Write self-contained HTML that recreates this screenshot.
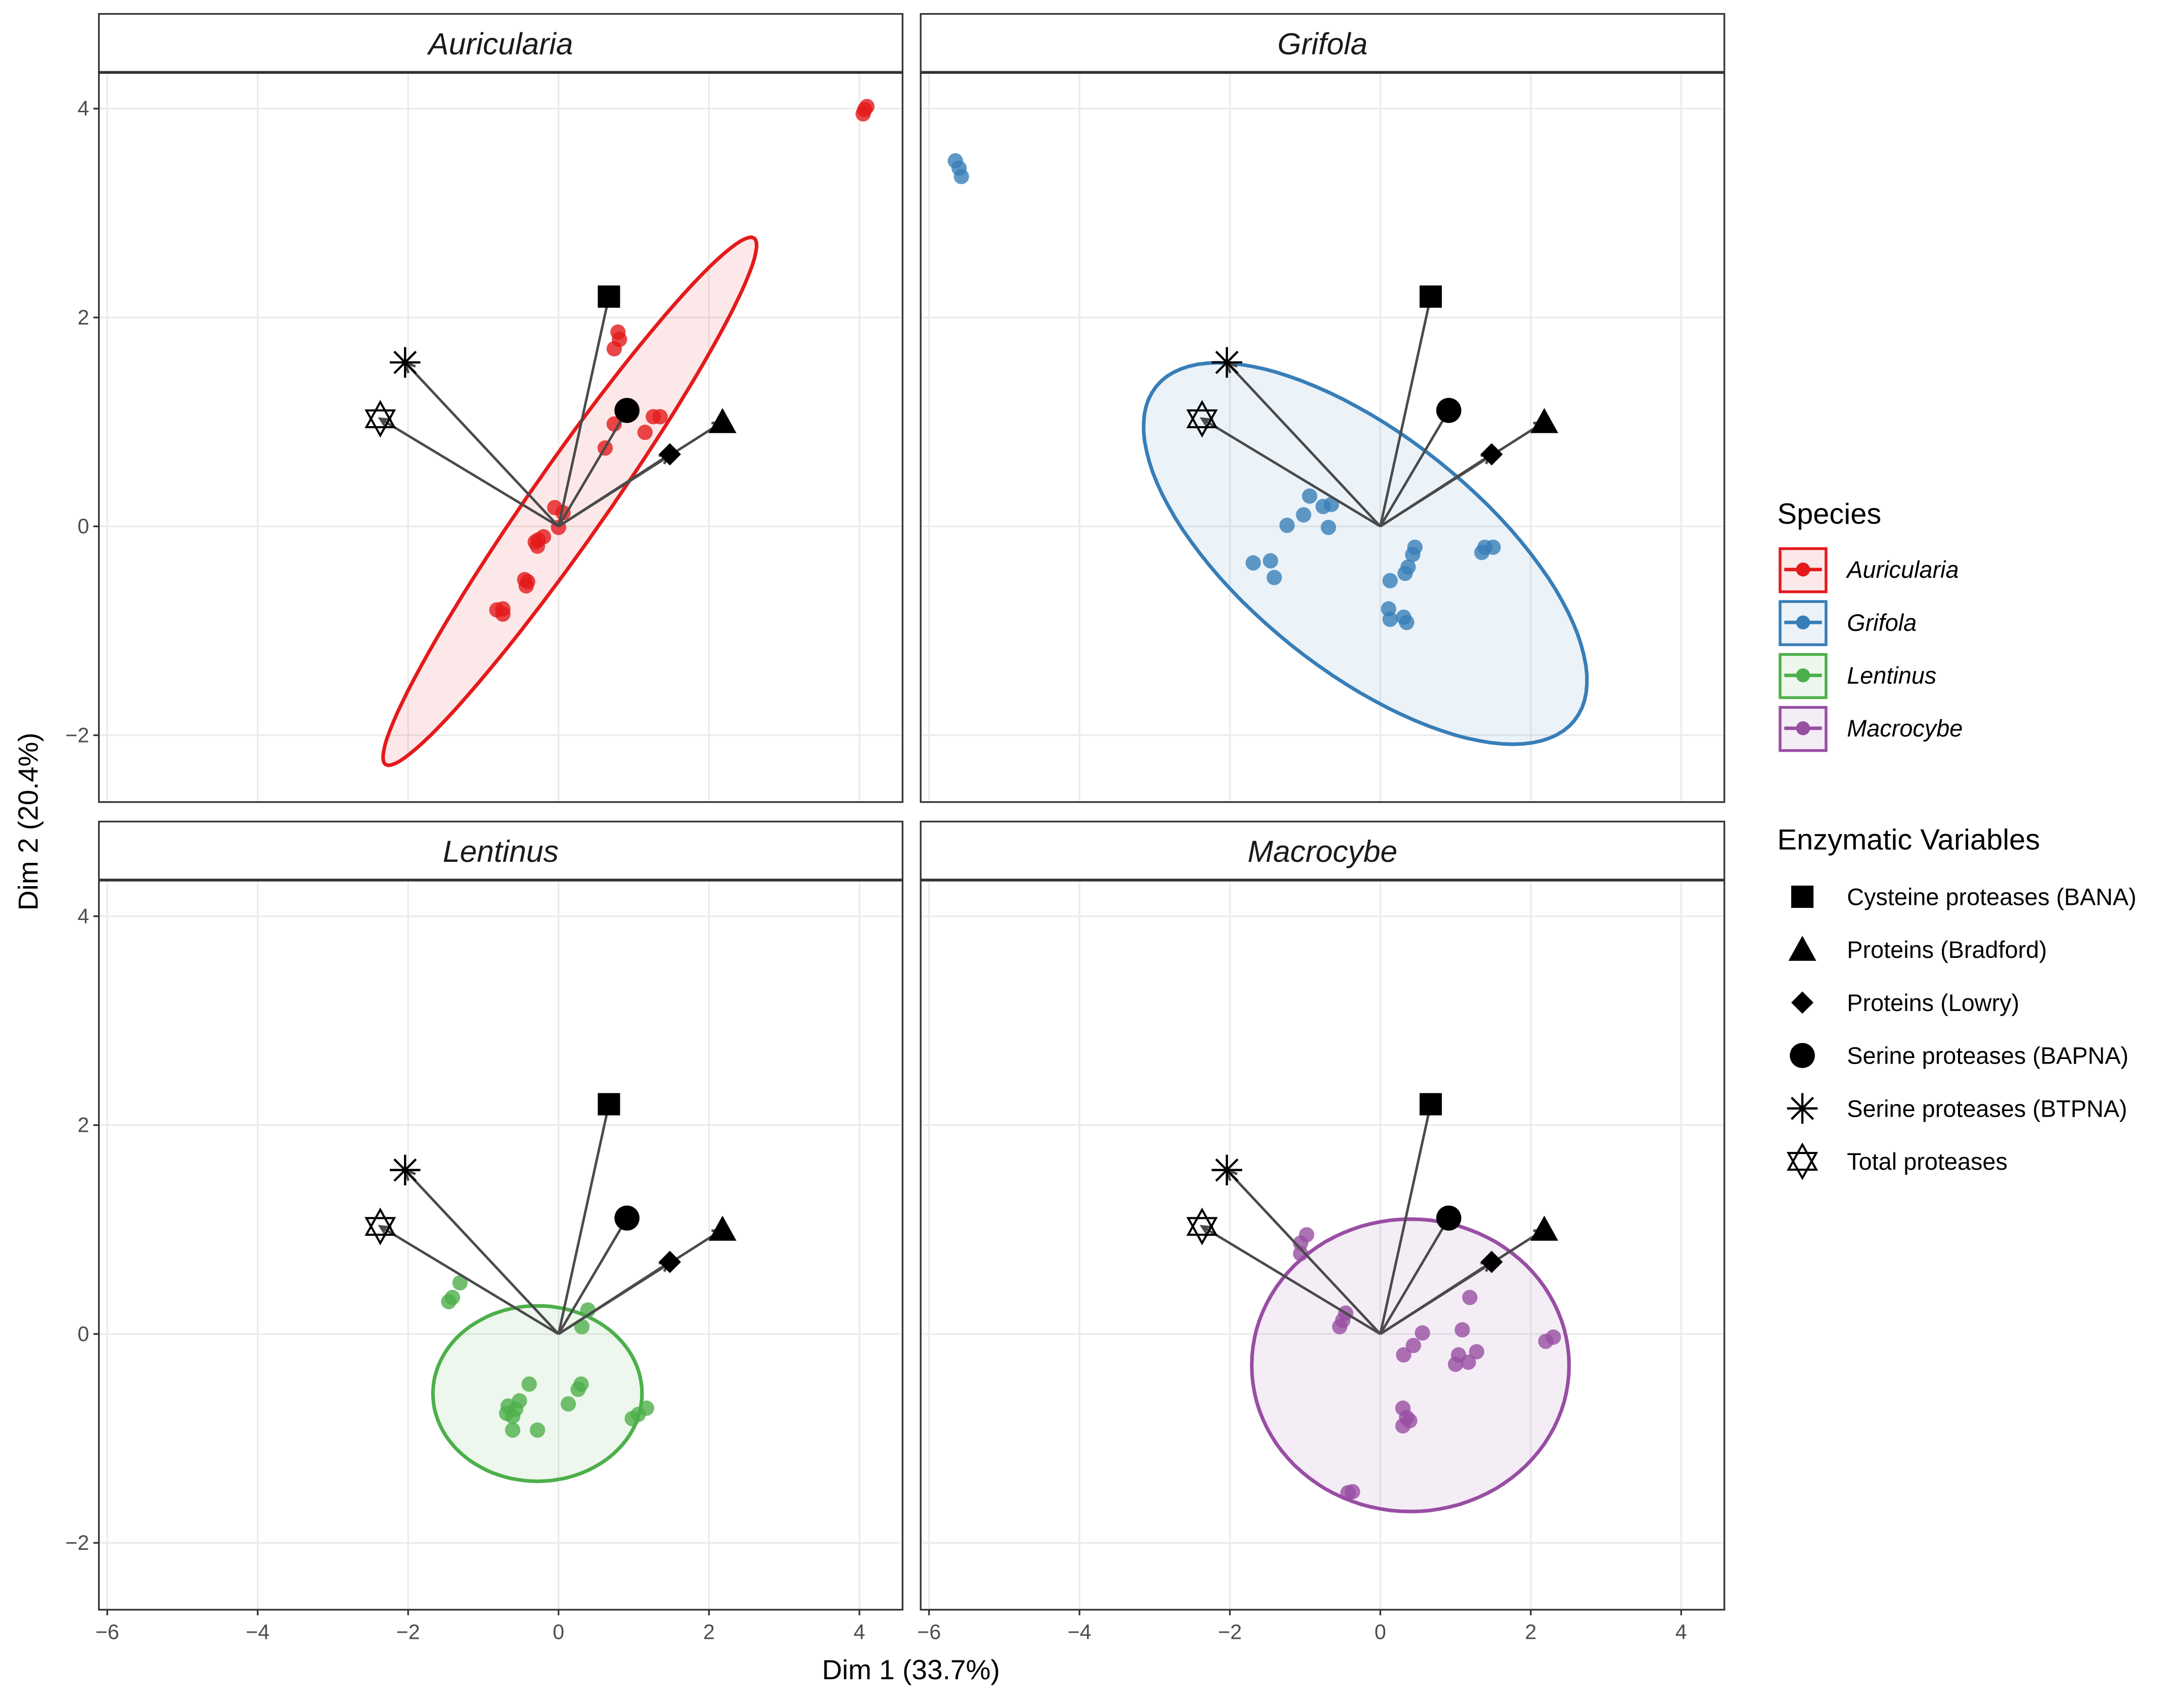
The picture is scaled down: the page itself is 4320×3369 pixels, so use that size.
<!DOCTYPE html>
<html><head><meta charset="utf-8"><style>
html,body{margin:0;padding:0;background:#fff}
svg{display:block}
text{font-family:"Liberation Sans",Arial,sans-serif}
</style></head><body>
<svg id="chart" width="4320" height="3369" viewBox="0 0 1568 1223" preserveAspectRatio="none" xmlns="http://www.w3.org/2000/svg">
<rect width="1568" height="1223" fill="#fff"/>
<g id="panels"></g>
<text x="654" y="1206" font-size="20" text-anchor="middle" fill="#000">Dim 1 (33.7%)</text>
<text transform="translate(27,590) rotate(-90)" font-size="20" text-anchor="middle" fill="#000">Dim 2 (20.4%)</text>
<g id="legend"></g>
</svg>
<script>
const species = ["Auricularia","Grifola","Lentinus","Macrocybe"];
const colors = ["#E41A1C","#377EB8","#4DAF4A","#984EA3"];
const ptsAuricularia = [[4.07,3.99],[4.05,3.95],[4.1,4.02],[0.79,1.86],[0.81,1.79],[0.74,1.70],[0.74,0.98],[1.26,1.05],[1.35,1.05],[1.15,0.90],[0.62,0.75],[-0.05,0.18],[0.06,0.13],[0,-0.01],[-0.2,-0.1],[-0.27,-0.13],[-0.28,-0.19],[-0.31,-0.15],[-0.45,-0.51],[-0.41,-0.53],[-0.43,-0.57],[-0.82,-0.8],[-0.74,-0.79],[-0.74,-0.84]];
const ptsGrifola = [[-5.65,3.5],[-5.6,3.43],[-5.57,3.35],[-0.94,0.29],[-0.65,0.21],[-0.76,0.19],[-1.02,0.11],[-1.24,0.01],[-0.69,-0.01],[-1.69,-0.35],[-1.46,-0.33],[-1.41,-0.49],[0.46,-0.2],[0.43,-0.27],[0.37,-0.39],[0.33,-0.45],[0.13,-0.52],[0.11,-0.79],[0.13,-0.89],[0.31,-0.87],[0.35,-0.92],[1.35,-0.25],[1.5,-0.2],[1.39,-0.2]];
const ptsLentinus = [[-1.31,0.49],[-1.41,0.35],[-1.46,0.31],[0.39,0.23],[0.31,0.07],[-0.39,-0.48],[0.3,-0.48],[0.26,-0.53],[-0.67,-0.69],[-0.52,-0.64],[-0.57,-0.72],[-0.69,-0.76],[-0.61,-0.79],[0.13,-0.67],[1.17,-0.71],[1.06,-0.77],[0.98,-0.81],[-0.61,-0.92],[-0.28,-0.92]];
const ptsMacrocybe = [[-0.98,0.95],[-1.06,0.87],[-1.06,0.77],[-0.46,0.2],[-0.5,0.13],[-0.54,0.07],[0.56,0.01],[0.44,-0.11],[0.31,-0.2],[1.19,0.35],[1.09,0.04],[1.28,-0.17],[1.04,-0.2],[1.17,-0.27],[1.0,-0.29],[2.2,-0.07],[2.3,-0.03],[0.3,-0.71],[0.35,-0.8],[0.3,-0.88],[0.39,-0.83],[-0.43,-1.52],[-0.37,-1.51]];
const allPts = [ptsAuricularia, ptsGrifola, ptsLentinus, ptsMacrocybe];
const ellCenters = [[0.15,0.24],[-0.2,-0.26],[-0.28,-0.57],[0.4,-0.3]];
const ellU = [[2.45,2.52],[2.78,-1.6],[1.39,0],[2.11,0]];
const ellV = [[0.41,-0.206],[-0.98,-0.88],[0,0.84],[0,1.4]];
const varNames = ["Cysteine proteases (BANA)","Proteins (Bradford)","Proteins (Lowry)","Serine proteases (BAPNA)","Serine proteases (BTPNA)","Total proteases"];
const varShapes = ["square","triangle","diamond","circle","asterisk","star"];
const varX = [0.67,2.18,1.48,0.91,-2.04,-2.37];
const varY = [2.2,1.0,0.69,1.11,1.57,1.03];
const xTicks = [-6,-4,-2,0,2,4];
const yTicks = [-2,0,2,4];

const NS="http://www.w3.org/2000/svg";
function mk(tag, attrs, parent){const e=document.createElementNS(NS,tag);for(const k in attrs)e.setAttribute(k,attrs[k]);parent.appendChild(e);return e;}
const panelsG=document.getElementById('panels');
const panelBox=[[71,10],[661,10],[71,590],[661,590]];
const PW=577, PH=566, STRIP=42;
function shape(g,type,cx,cy){
  if(type==="square") mk('rect',{x:cx-8,y:cy-8,width:16,height:16,fill:'#000'},g);
  else if(type==="triangle") mk('polygon',{points:`${cx},${cy-10} ${cx-10},${cy+8} ${cx+10},${cy+8}`,fill:'#000'},g);
  else if(type==="diamond") mk('polygon',{points:`${cx},${cy-8} ${cx+8},${cy} ${cx},${cy+8} ${cx-8},${cy}`,fill:'#000'},g);
  else if(type==="circle") mk('circle',{cx:cx,cy:cy,r:9,fill:'#000'},g);
  else if(type==="asterisk"){const r=11;mk('path',{d:`M${cx-r},${cy}H${cx+r}M${cx},${cy-r}V${cy+r}M${cx-7.8},${cy-7.8}L${cx+7.8},${cy+7.8}M${cx-7.8},${cy+7.8}L${cx+7.8},${cy-7.8}`,stroke:'#000','stroke-width':1.6,fill:'none'},g);}
  else if(type==="star"){mk('polygon',{points:`${cx},${cy-12} ${cx-10},${cy+6} ${cx+10},${cy+6}`,fill:'none',stroke:'#000','stroke-width':1.5},g);mk('polygon',{points:`${cx},${cy+12} ${cx-10},${cy-6} ${cx+10},${cy-6}`,fill:'none',stroke:'#000','stroke-width':1.5},g);}
}
for(let p=0;p<4;p++){
  const [L,T]=panelBox[p];
  const top=T+STRIP, bot=T+PH;
  const sx=v=>L+330+v*54;
  const sy=v=>T+368+(-v)*75;
  const g=mk('g',{},panelsG);
  
  
  mk('rect',{x:L,y:top,width:PW,height:PH-STRIP,fill:'#fff'},g);
  xTicks.forEach(t=>{mk('line',{x1:sx(t),x2:sx(t),y1:top,y2:bot,stroke:'#ebebeb','stroke-width':1.2},g);});
  yTicks.forEach(t=>{mk('line',{x1:L,x2:L+PW,y1:sy(t),y2:sy(t),stroke:'#ebebeb','stroke-width':1.2},g);});
  const c=ellCenters[p],u=ellU[p],v=ellV[p];let d='';
  for(let i=0;i<=100;i++){const a=i/100*2*Math.PI;const x=c[0]+Math.cos(a)*u[0]+Math.sin(a)*v[0];const y=c[1]+Math.cos(a)*u[1]+Math.sin(a)*v[1];d+=(i?'L':'M')+sx(x).toFixed(1)+','+sy(y).toFixed(1);}
  const el=mk('path',{d:d+'Z',fill:colors[p],'fill-opacity':0.1,stroke:colors[p],'stroke-width':2.6},g);
  
  
  allPts[p].forEach(pt=>{const c2=mk('circle',{cx:sx(pt[0]),cy:sy(pt[1]),r:5.5,fill:colors[p],'fill-opacity':0.8},g);
    
    });
  for(let k=0;k<varX.length;k++){
    const x0=sx(0),y0=sy(0),x1=sx(varX[k]),y1=sy(varY[k]);
    const ln=mk('line',{x1:x0,y1:y0,x2:x1,y2:y1,stroke:'#4a4a4a','stroke-width':1.8},g);
    
    
    const ang=Math.atan2(y1-y0,x1-x0),h=8;
    mk('path',{d:`M${x1-h*Math.cos(ang-0.45)},${y1-h*Math.sin(ang-0.45)}L${x1},${y1}L${x1-h*Math.cos(ang+0.45)},${y1-h*Math.sin(ang+0.45)}`,stroke:'#4a4a4a','stroke-width':1.8,fill:'none'},g);
    const sg=mk('g',{},g);
    
    
    shape(sg,varShapes[k],x1,y1);
  }
  mk('rect',{x:L,y:top,width:PW,height:PH-STRIP,fill:'none',stroke:'#333','stroke-width':1.2},g);
  mk('rect',{x:L,y:T,width:PW,height:STRIP,fill:'#fff',stroke:'#333','stroke-width':1.2},g);
  mk('line',{x1:L,x2:L+PW,y1:top,y2:top,stroke:'#333','stroke-width':2},g);
  const st=mk('text',{x:L+PW/2,y:T+29,'font-size':22,'font-style':'italic','text-anchor':'middle',fill:'#1a1a1a'},g);
  st.textContent=species[p];
  
  
  if(p%2===0){yTicks.forEach(t=>{mk('line',{x1:L-4,x2:L,y1:sy(t),y2:sy(t),stroke:'#333','stroke-width':1.2},g);
    const tx=mk('text',{x:L-7,y:sy(t)+5,'font-size':15,'text-anchor':'end',fill:'#4d4d4d'},g);tx.textContent=(t<0?'\u2212':'')+Math.abs(t);
    
    });}
  if(p>=2){xTicks.forEach(t=>{mk('line',{x1:sx(t),x2:sx(t),y1:bot,y2:bot+4,stroke:'#333','stroke-width':1.2},g);
    const tx=mk('text',{x:sx(t),y:bot+21,'font-size':15,'text-anchor':'middle',fill:'#4d4d4d'},g);tx.textContent=(t<0?'\u2212':'')+Math.abs(t);
    
    });}
}
const lg=document.getElementById('legend');
const t1=mk('text',{x:1276,y:376,'font-size':21,fill:'#000'},lg);t1.textContent='Species';


species.forEach((s,i)=>{const y=409+i*38;const g=mk('g',{},lg);
  
  
  mk('rect',{x:1278,y:y-15,width:33,height:31,fill:colors[i],'fill-opacity':0.1,stroke:colors[i],'stroke-width':2},g);
  mk('line',{x1:1281,x2:1308,y1:y,y2:y,stroke:colors[i],'stroke-width':2.5},g);
  mk('circle',{cx:1294.5,cy:y,r:5,fill:colors[i]},g);
  const t=mk('text',{x:1326,y:y+6,'font-size':17,'font-style':'italic',fill:'#000'},g);t.textContent=s;});
const t2=mk('text',{x:1276,y:610,'font-size':21,fill:'#000'},lg);t2.textContent='Enzymatic Variables';


varNames.forEach((n,i)=>{const y=644+i*38;const g=mk('g',{},lg);
  
  
  shape(g,varShapes[i],1294,y);
  const t=mk('text',{x:1326,y:y+6,'font-size':17,fill:'#000'},g);t.textContent=n;});
</script>
</body></html>
